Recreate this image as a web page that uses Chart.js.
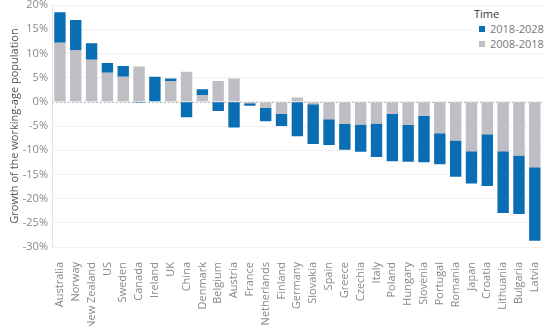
<!DOCTYPE html>
<html>
<head>
<meta charset="utf-8">
<script src="https://cdn.jsdelivr.net/npm/chart.js@4"></script>
<style>
  html, body { margin: 0; padding: 0; background: #fff; }
  #wrap { position: relative; width: 555px; height: 326px; }
  #legend { position: absolute; left: 470px; top: 6px; width: 85px; background: #fff;
    font-family: 'Open Sans', sans-serif; font-size: 11px; color: #777; line-height: 15px; padding-left: 4px; }
  #legend .t { color: #333; margin-bottom: 0px; }
  #legend .i { padding-left: 16px; position: relative; }
  #legend .i span { position: absolute; left: 5px; top: 5px; width: 6px; height: 6px; }
</style>
</head>
<body>
<div id="wrap">
  <canvas id="barChart" width="555" height="326"></canvas>
  <div id="legend">
    <div class="t">Time</div>
    <div class="i"><span style="background:#0a6eb4"></span>2018-2028</div>
    <div class="i"><span style="background:#bfbec4"></span>2008-2018</div>
  </div>
</div>
<script>
var countries = ['Australia', 'Norway', 'New Zealand', 'US', 'Sweden', 'Canada', 'Ireland', 'UK', 'China', 'Denmark',
  'Belgium', 'Austria', 'France', 'Netherlands', 'Finland', 'Germany', 'Slovakia', 'Spain', 'Greece', 'Czechia',
  'Italy', 'Poland', 'Hungary', 'Slovenia', 'Portugal', 'Romania', 'Japan', 'Croatia', 'Lithuania', 'Bulgaria', 'Latvia'];
var past = [12.2, 10.7, 8.7, 6.0, 5.2, 7.3, -0.1, 4.3, 6.2, 1.4,
  4.3, 4.8, -0.3, -1.3, -2.5, 0.9, -0.5, -3.6, -4.6, -4.7,
  -4.5, -2.5, -4.8, -2.9, -6.5, -8.0, -10.2, -6.7, -10.2, -11.1, -13.5];
var future = [6.3, 6.2, 3.4, 2.0, 2.2, -0.2, 5.2, 0.5, -3.2, 1.2,
  -1.9, -5.3, -0.5, -2.7, -2.5, -7.1, -8.2, -5.3, -5.3, -5.6,
  -6.9, -9.8, -7.6, -9.6, -6.4, -7.5, -6.7, -10.7, -12.8, -12.1, -15.2];

var tickColor = '#888';
var font = { family: 'Open Sans', size: 11 };

// dotted line at zero
var zeroLine = {
  id: 'zeroLine',
  beforeDatasetsDraw: function (chart) {
    var y = chart.scales.y.getPixelForValue(0);
    var ctx = chart.ctx;
    ctx.save();
    ctx.strokeStyle = '#b8b8b8';
    ctx.lineWidth = 1;
    ctx.setLineDash([2, 2]);
    ctx.beginPath();
    ctx.moveTo(chart.chartArea.left, Math.round(y) + 0.5);
    ctx.lineTo(chart.chartArea.right, Math.round(y) + 0.5);
    ctx.stroke();
    ctx.restore();
  }
};

new Chart(document.getElementById('barChart'), {
  type: 'bar',
  data: {
    labels: countries,
    datasets: [{
      label: '2008-2018',
      data: past,
      backgroundColor: '#bfbec4',
      barPercentage: 0.72,
      categoryPercentage: 1
    }, {
      label: '2018-2028',
      data: future,
      backgroundColor: '#0a6eb4',
      barPercentage: 0.72,
      categoryPercentage: 1
    }]
  },
  options: {
    responsive: false,
    animation: false,
    layout: { padding: { top: 5, right: 0, left: 0, bottom: 0 } },
    plugins: {
      legend: { display: false },
      tooltip: { enabled: false }
    },
    scales: {
      x: {
        stacked: true,
        grid: { display: false },
        border: { display: false },
        afterFit: function (scale) { scale.height = 79; },
        ticks: {
          color: tickColor,
          font: font,
          minRotation: 90,
          maxRotation: 90,
          autoSkip: false,
          padding: 7
        }
      },
      y: {
        stacked: true,
        min: -30,
        max: 20,
        afterFit: function (scale) { scale.width = 52; scale.paddingTop = 0; },
        grid: { color: '#f0f0f0', drawTicks: false },
        border: { color: '#e4e4e4' },
        ticks: {
          stepSize: 5,
          color: tickColor,
          font: font,
          padding: 4,
          callback: function (v) { return v + '%'; }
        },
        title: {
          display: true,
          text: 'Growth of the working-age population',
          color: '#555',
          font: font,
          padding: { top: 8, bottom: 0 }
        }
      }
    }
  },
  plugins: [zeroLine]
});
</script>
</body>
</html>
